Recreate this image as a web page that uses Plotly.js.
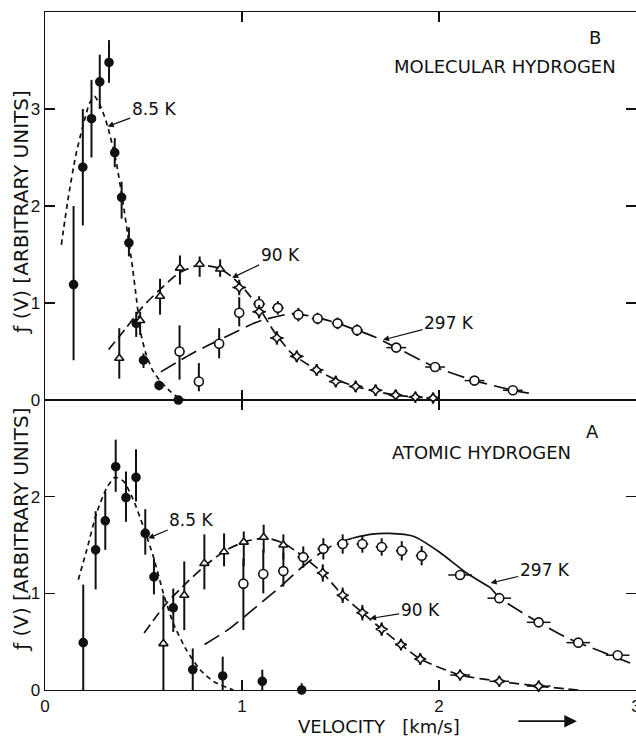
<!DOCTYPE html>
<html>
<head>
<meta charset="utf-8">
<script src="https://cdn.plot.ly/plotly-3.0.1.min.js"></script>
<style>html,body{margin:0;padding:0;background:#fff}</style>
</head>
<body>
<div id="chart" style="width:636px;height:736px"></div>
<script>
// ---------- Panel B: molecular hydrogen ----------
const b85V = [0.145,0.192,0.236,0.278,0.325,0.354,0.389,0.426,0.463,0.500,0.579,0.677];
const b85F = [1.19,2.40,2.90,3.28,3.48,2.55,2.09,1.62,0.79,0.41,0.15,0.00];
const b85Up = [0.81,0.60,0.40,0.28,0.23,0.15,0.16,0.16,0.12,0.07,0.05,0.00];
const b85Dn = [0.78,0.60,0.40,0.28,0.21,0.15,0.22,0.14,0.14,0.08,0.05,0.00];

const b90TriV = [0.377,0.483,0.584,0.685,0.785,0.889];
const b90TriF = [0.43,0.82,1.07,1.36,1.40,1.35];
const b90TriUp = [0.31,0.09,0.18,0.13,0.08,0.10];
const b90TriDn = [0.21,0.15,0.19,0.17,0.13,0.08];

const b90StarV = [0.986,1.087,1.177,1.278,1.379,1.476,1.577,1.678,1.780,1.880,1.970];
const b90StarF = [1.16,0.91,0.64,0.45,0.31,0.19,0.14,0.10,0.05,0.03,0.02];
const b90StarErr = [0.08,0.07,0.07,0.06,0.06,0.06,0.06,0.06,0.05,0.05,0.05];

const b297V = [0.683,0.781,0.884,0.986,1.087,1.182,1.286,1.384,1.485,1.584,1.783,1.980,2.180,2.375];
const b297F = [0.50,0.19,0.58,0.90,0.99,0.95,0.88,0.84,0.79,0.72,0.54,0.34,0.20,0.10];
const b297Up = [0.27,0.19,0.16,0.16,0.08,0.07,0.07,0.06,0.06,0.06,0.03,0.00,0.00,0.00];
const b297Dn = [0.29,0.10,0.15,0.14,0.08,0.07,0.07,0.06,0.06,0.06,0.03,0.00,0.00,0.00];
const b297Hx = [0,0,0,0,0.03,0.03,0.03,0.03,0.03,0.03,0.05,0.05,0.05,0.05];

const b85CurveV = [0.083,0.116,0.155,0.192,0.226,0.251,0.284,0.318,0.360,0.394,0.419,0.444,0.465,0.486,0.512,0.545,0.579,0.630,0.680,0.720];
const b85CurveF = [1.60,2.06,2.51,2.82,3.06,3.13,3.02,2.82,2.47,2.06,1.72,1.37,1.03,0.69,0.48,0.31,0.21,0.10,0.02,0.00];
const b90CurveV = [0.323,0.411,0.495,0.579,0.680,0.781,0.882,0.949,1.017,1.084,1.168,1.253,1.379,1.476,1.577,1.678,1.780,1.880,1.970,2.020];
const b90CurveF = [0.52,0.74,0.96,1.13,1.31,1.39,1.36,1.27,1.13,0.96,0.69,0.48,0.31,0.21,0.14,0.09,0.05,0.03,0.02,0.01];
const b297CurveV = [0.588,0.747,0.916,1.084,1.253,1.384,1.485,1.584,1.674,1.783,1.980,2.180,2.375,2.456];
const b297CurveF = [0.29,0.48,0.65,0.81,0.89,0.85,0.79,0.72,0.65,0.54,0.34,0.20,0.10,0.07];

// ---------- Panel A: atomic hydrogen ----------
const a85V = [0.194,0.257,0.306,0.359,0.411,0.462,0.509,0.553,0.651,0.750,0.902,1.103,1.303];
const a85F = [0.49,1.45,1.75,2.31,1.99,2.20,1.62,1.17,0.85,0.21,0.145,0.09,0.00];
const a85Up = [0.60,0.40,0.30,0.28,0.27,0.29,0.25,0.19,0.20,0.22,0.20,0.12,0.07];
const a85Dn = [0.49,0.41,0.30,0.26,0.25,0.25,0.22,0.18,0.25,0.21,0.145,0.09,0.00];

const a90TriV = [0.601,0.707,0.809,0.909,1.009,1.110,1.210];
const a90TriF = [0.48,0.98,1.31,1.43,1.53,1.58,1.50];
const a90TriUp = [0.50,0.35,0.30,0.19,0.11,0.13,0.11];
const a90TriDn = [0.48,0.36,0.27,0.15,0.25,0.16,0.15];

const a90StarV = [1.410,1.511,1.611,1.709,1.807,1.905,2.107,2.306,2.506];
const a90StarF = [1.21,0.98,0.80,0.63,0.47,0.32,0.155,0.09,0.04];
const a90StarErr = [0.09,0.08,0.08,0.07,0.06,0.06,0.04,0.04,0.04];
const a90StarHx = [0.03,0.03,0.03,0.03,0.03,0.03,0.05,0.05,0.06];

const a297V = [1.007,1.108,1.210,1.311,1.413,1.511,1.611,1.709,1.811,1.912,2.107,2.306,2.506,2.707,2.907];
const a297F = [1.10,1.20,1.23,1.375,1.46,1.51,1.51,1.48,1.44,1.39,1.19,0.95,0.70,0.49,0.36];
const a297Up = [0.26,0.25,0.19,0.11,0.11,0.10,0.09,0.09,0.10,0.10,0.02,0.00,0.00,0.00,0.00];
const a297Dn = [0.48,0.20,0.16,0.11,0.11,0.10,0.09,0.09,0.10,0.10,0.02,0.00,0.00,0.00,0.00];
const a297Hx = [0,0,0,0.03,0.03,0.03,0.03,0.03,0.03,0.03,0.06,0.06,0.06,0.06,0.06];

const a85CurveV = [0.169,0.212,0.262,0.313,0.355,0.398,0.448,0.499,0.550,0.601,0.651,0.719,0.787,0.854,0.956];
const a85CurveF = [1.14,1.45,1.83,2.09,2.20,2.16,1.97,1.69,1.38,1.00,0.69,0.41,0.21,0.09,0.00];
const a90CurveV = [0.503,0.618,0.719,0.821,0.922,1.024,1.125,1.210,1.311,1.410,1.511,1.611,1.709,1.807,1.905,2.107,2.306,2.506,2.707];
const a90CurveF = [0.59,0.90,1.11,1.30,1.45,1.54,1.57,1.52,1.38,1.21,0.98,0.80,0.63,0.47,0.32,0.155,0.09,0.04,0.00];
const a297CurveV = [0.81,0.94,1.06,1.19,1.31,1.40,1.48,1.56,1.65,1.75,1.87,2.00,2.14,2.26,2.31,2.48,2.65,2.82,2.97];
const a297CurveF = [0.47,0.64,0.84,1.06,1.28,1.42,1.52,1.57,1.61,1.62,1.59,1.43,1.21,1.06,0.95,0.73,0.54,0.40,0.28];
const a297SolidFrom = 7, a297SolidTo = 13; // index range drawn as solid line

// ---------- styles ----------
const INK = '#111';
const FONT = 'DejaVu Sans, Liberation Sans, sans-serif';
const TICKFONT = 'Liberation Sans, Arial, sans-serif';

function errY(up, dn) {
  return {type:'data', symmetric:false, array:up, arrayminus:dn, color:INK, thickness:2, width:0, visible:true};
}
function errX(arr) {
  return {type:'data', symmetric:true, array:arr, color:INK, thickness:1.5, width:0, visible:true};
}
function curve(v, f, dash, xa, ya) {
  return {x:v, y:f, mode:'lines', xaxis:xa, yaxis:ya, hoverinfo:'skip',
          line:{color:INK, width:1.7, dash:dash, shape:'spline', smoothing:0.6}};
}
function pts(v, f, symbol, fill, size, xa, ya, ey, ex) {
  const t = {x:v, y:f, mode:'markers', xaxis:xa, yaxis:ya,
    marker:{symbol:symbol, size:size, color:fill, line:{color:INK, width:1.6}},
    error_y: ey};
  if (ex) t.error_x = ex;
  return t;
}

const D85 = '5px,4px', D90 = '10px,5px', D297 = '17px,7px';
const W = '#ffffff';

const traces = [
  // panel B (top)
  curve(b85CurveV, b85CurveF, D85, 'x2', 'y'),
  curve(b90CurveV, b90CurveF, D90, 'x2', 'y'),
  curve(b297CurveV, b297CurveF, D297, 'x2', 'y'),
  pts(b85V, b85F, 'circle', INK, 8, 'x2', 'y', errY(b85Up, b85Dn)),
  pts(b90TriV, b90TriF, 'triangle-up', W, 8, 'x2', 'y', errY(b90TriUp, b90TriDn)),
  pts(b297V, b297F, 'circle', W, 9, 'x2', 'y', errY(b297Up, b297Dn), errX(b297Hx)),
  pts(b90StarV, b90StarF, 'star-diamond', W, 8, 'x2', 'y', errY(b90StarErr, b90StarErr), errX(b90StarV.map(()=>0.035))),
  // panel A (bottom)
  curve(a85CurveV, a85CurveF, D85, 'x', 'y2'),
  curve(a90CurveV, a90CurveF, D90, 'x', 'y2'),
  curve(a297CurveV.slice(0, a297SolidFrom+1), a297CurveF.slice(0, a297SolidFrom+1), D297, 'x', 'y2'),
  curve(a297CurveV.slice(a297SolidFrom, a297SolidTo+1), a297CurveF.slice(a297SolidFrom, a297SolidTo+1), 'solid', 'x', 'y2'),
  curve(a297CurveV.slice(a297SolidTo), a297CurveF.slice(a297SolidTo), D297, 'x', 'y2'),
  pts(a85V, a85F, 'circle', INK, 8, 'x', 'y2', errY(a85Up, a85Dn)),
  pts(a90TriV, a90TriF, 'triangle-up', W, 8, 'x', 'y2', errY(a90TriUp, a90TriDn)),
  pts(a297V, a297F, 'circle', W, 9, 'x', 'y2', errY(a297Up, a297Dn), errX(a297Hx)),
  pts(a90StarV, a90StarF, 'star-diamond', W, 8, 'x', 'y2', errY(a90StarErr, a90StarErr), errX(a90StarHx))
];
traces.forEach(t => { t.showlegend = false; t.cliponaxis = false; });

const axisCommon = {
  showline:true, linecolor:INK, linewidth:1.4, mirror:'allticks',
  ticks:'inside', ticklen:10, tickwidth:1.4, tickcolor:INK,
  showgrid:false, zeroline:false, fixedrange:true, ticklabeloverflow:'allow',
  tickfont:{family:TICKFONT, size:17, color:INK}
};

function lbl(text, xref, yref, x, y, ax, ay) {
  return {text:text, xref:xref, yref:yref, x:x, y:y, ax:ax, ay:ay, showarrow:true,
    arrowhead:2, arrowsize:1, arrowwidth:1.2, arrowcolor:INK, standoff:0,
    font:{family:FONT, size:17, color:INK}};
}
function txt(text, x, y, size, extra) {
  return Object.assign({text:text, xref:'paper', yref:'paper', x:x, y:y, showarrow:false,
    xanchor:'center', yanchor:'middle',
    font:{family:FONT, size:size, color:INK}}, extra||{});
}

const SPLIT = 290/678; // bottom panel share of the plot height

const layout = {
  width:636, height:736,
  margin:{l:45, r:0, t:12, b:46},
  paper_bgcolor:'#fff', plot_bgcolor:'#fff',
  showlegend:false,
  xaxis: Object.assign({}, axisCommon, {range:[0,3], tickvals:[0,1,2,3], ticktext:['0','1','2','3'],
          anchor:'y2', domain:[0,1]}),
  xaxis2: Object.assign({}, axisCommon, {range:[0,3], tickvals:[0,1,2,3], showticklabels:false,
          anchor:'y', matches:'x', domain:[0,1]}),
  yaxis: Object.assign({}, axisCommon, {range:[0,4], tickvals:[0,1,2,3], domain:[SPLIT,1], anchor:'x2'}),
  yaxis2: Object.assign({}, axisCommon, {range:[0,3], tickvals:[0,1,2], domain:[0,SPLIT], anchor:'x'}),
  annotations: [
    txt('B', 0.931, 0.962, 18),
    txt('MOLECULAR HYDROGEN', 0.778, 0.919, 18),
    txt('A', 0.926, 0.381, 18),
    txt('ATOMIC HYDROGEN', 0.738, 0.350, 18),
    txt('ƒ (V) [ARBITRARY UNITS]', 0, 0.704, 20, {xshift:-24, textangle:-90}),
    txt('ƒ (V) [ARBITRARY UNITS]', 0, 0.236, 20, {xshift:-24, textangle:-90}),
    txt('VELOCITY&nbsp;&nbsp;&nbsp;[km/s]', 0.565, -0.054, 18),
    {text:'', xref:'paper', yref:'paper', x:0.90, y:-0.046, ax:-60, ay:0, showarrow:true,
     arrowhead:2, arrowsize:1.4, arrowwidth:1.8, arrowcolor:INK},
    lbl('8.5 K', 'x2', 'y', 0.318, 2.82, 46, -17),
    lbl('90 K', 'x2', 'y', 0.95, 1.26, 48, -23),
    lbl('297 K', 'x2', 'y', 1.716, 0.62, 66, -17),
    lbl('8.5 K', 'x', 'y2', 0.524, 1.57, 43, -18),
    lbl('90 K', 'x', 'y2', 1.65, 0.74, 50, -8),
    lbl('297 K', 'x', 'y2', 2.262, 1.106, 54, -13)
  ]
};

Plotly.newPlot('chart', traces, layout, {displayModeBar:false, staticPlot:true});
</script>
</body>
</html>
